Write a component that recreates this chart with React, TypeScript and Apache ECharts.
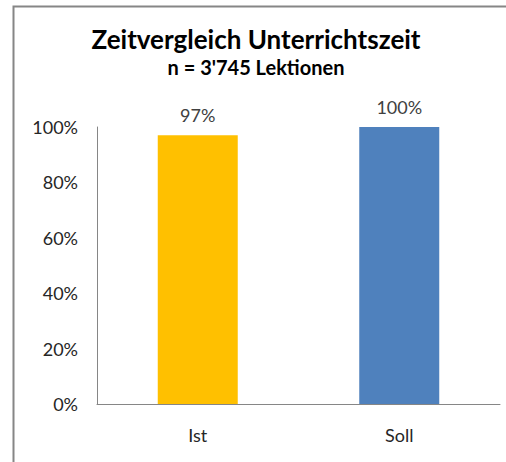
import React, { useEffect, useRef } from "react";
import * as echarts from "echarts";

const categories = ["Ist", "Soll"];
const values = [97, 100];
const barColors = ["#FFC000", "#4F81BD"];
const yTicks = { min: 0, max: 100, interval: 20 };
const titleText = "Zeitvergleich Unterrichtszeit";
const subtitleText = "n = 3'745 Lektionen";

const FONT = "Lato, 'Liberation Sans', sans-serif";

export default function App() {
  const ref = useRef<HTMLDivElement>(null);
  useEffect(() => {
    if (!ref.current) return;
    const chart = echarts.init(ref.current, null, { renderer: "svg" });
    chart.setOption({
      animation: false,
      backgroundColor: "#ffffff",
      textStyle: { fontFamily: FONT },
      title: {
        text: titleText,
        subtext: subtitleText,
        left: 251,
        textAlign: "center",
        top: 21,
        itemGap: 5,
        textStyle: { fontFamily: FONT, fontSize: 26, fontWeight: "bold", color: "#000" },
        subtextStyle: { fontFamily: FONT, fontSize: 20, fontWeight: "bold", color: "#000" },
      },
      graphic: [
        {
          type: "rect",
          shape: { x: 13.5, y: 6.5, width: 510, height: 480 },
          style: { fill: "none", stroke: "#868686", lineWidth: 2 },
          silent: true,
        },
      ],
      grid: { left: 97, right: 6, top: 127, bottom: 58, containLabel: false },
      xAxis: {
        type: "category",
        data: categories,
        axisLine: { lineStyle: { color: "#868686", width: 1 } },
        axisTick: { show: false },
        axisLabel: { color: "#262626", fontSize: 18, margin: 22, fontFamily: FONT },
      },
      yAxis: {
        type: "value",
        min: yTicks.min,
        max: yTicks.max,
        interval: yTicks.interval,
        axisLine: { show: true, lineStyle: { color: "#868686", width: 1 } },
        axisTick: { show: false },
        splitLine: { show: false },
        axisLabel: { color: "#262626", fontSize: 18, margin: 19, formatter: "{value}%", fontFamily: FONT },
      },
      series: [
        {
          type: "bar",
          barWidth: 80,
          data: values.map((v, i) => ({ value: v, itemStyle: { color: barColors[i] } })),
          label: {
            show: true,
            position: "top",
            distance: 11,
            formatter: "{c}%",
            color: "#404040",
            fontSize: 18,
            fontFamily: FONT,
          },
        },
      ],
    });
    return () => chart.dispose();
  }, []);
  return (
    <div
      ref={ref}
      style={{ position: "fixed", left: 0, top: 0, width: 506, height: 462 }}
    />
  );
}
